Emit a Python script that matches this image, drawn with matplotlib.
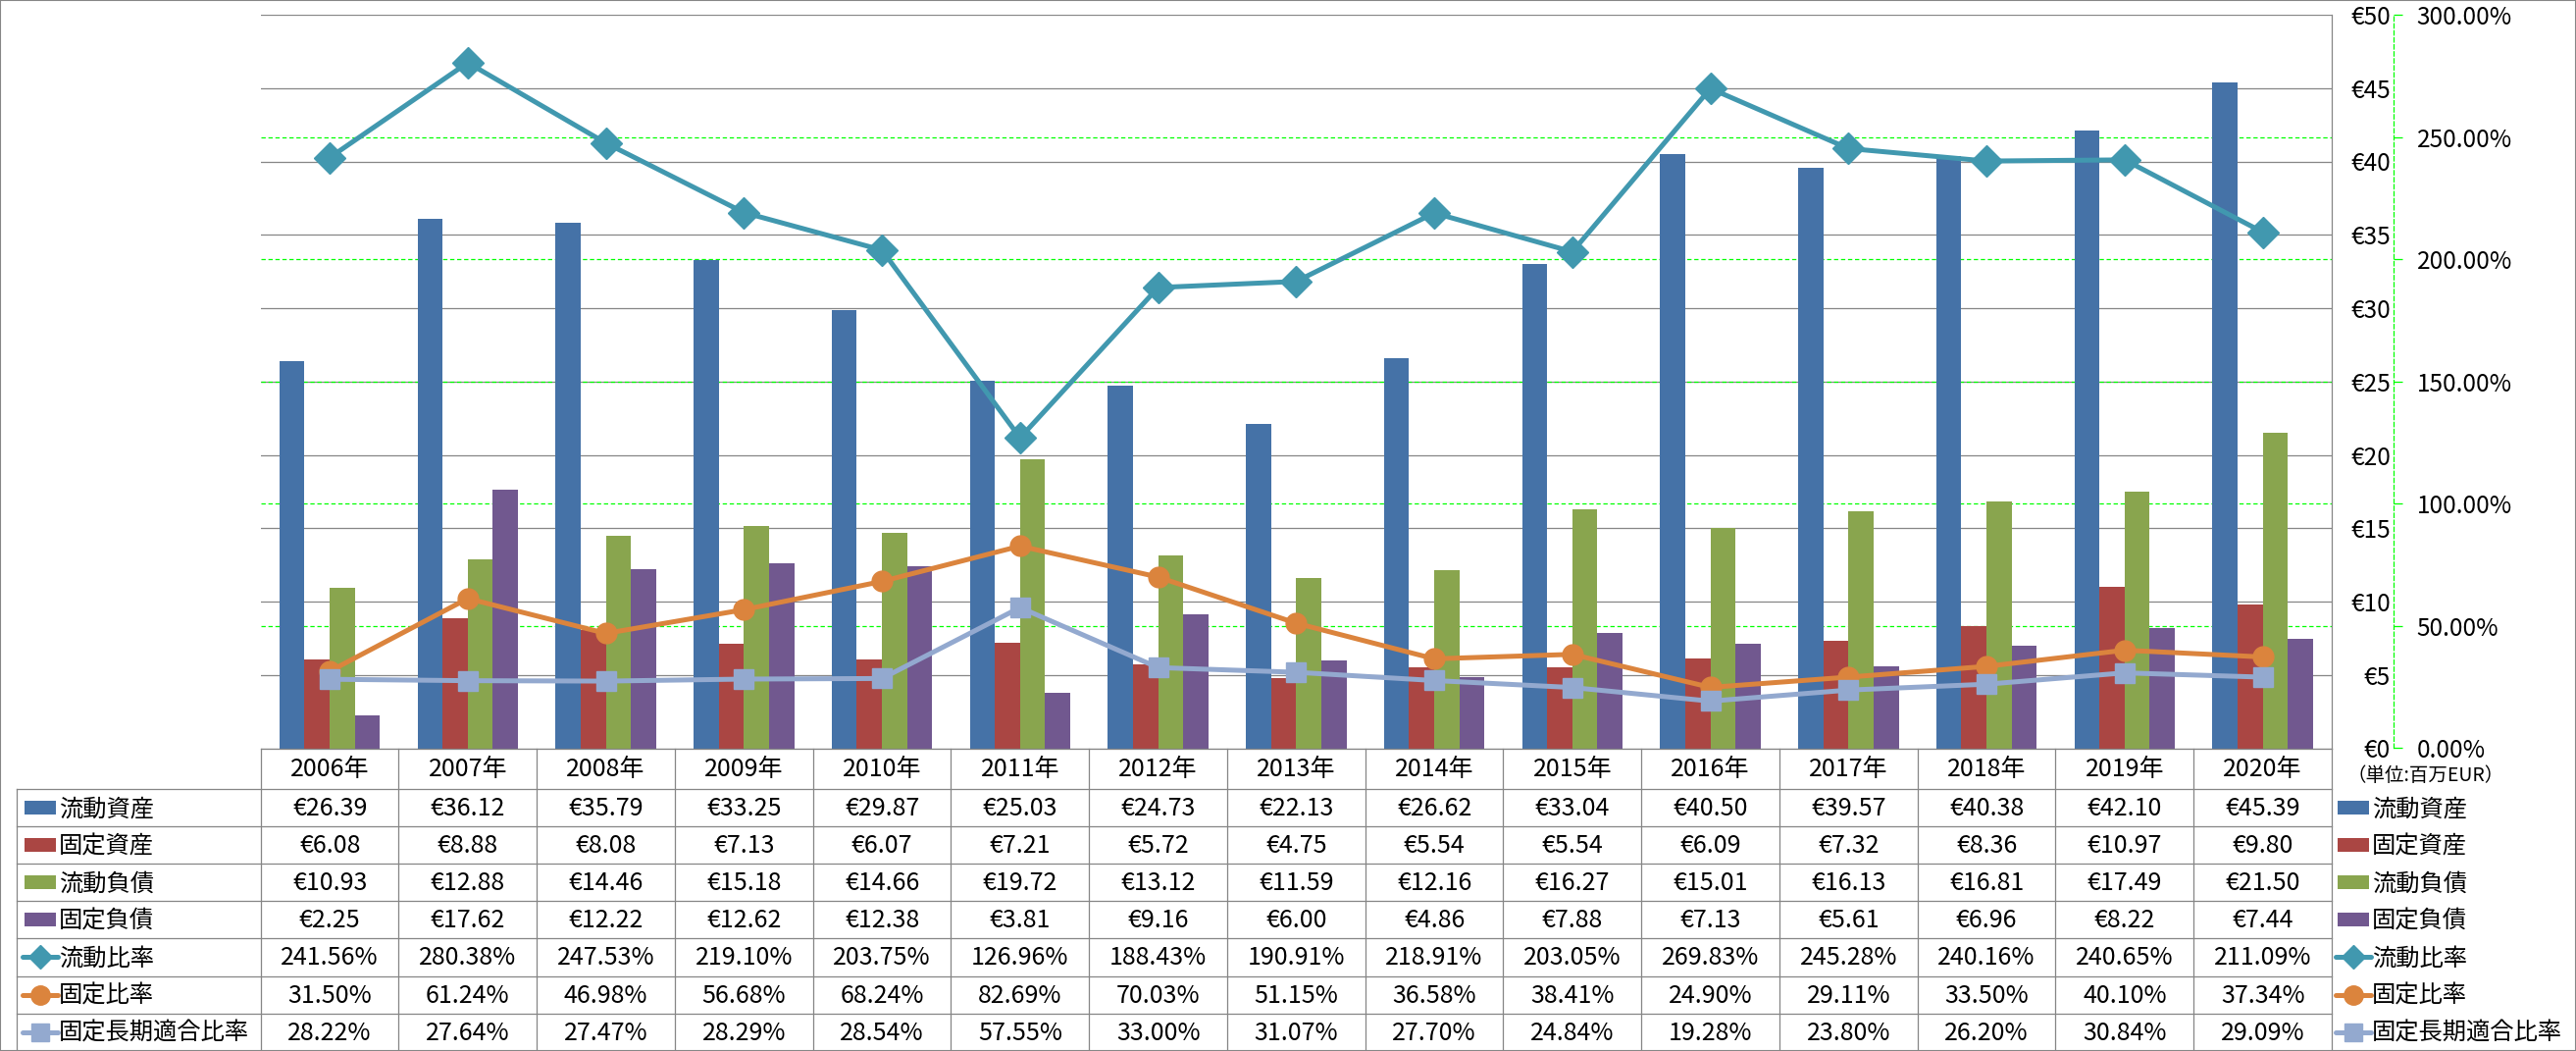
import matplotlib
matplotlib.use("Agg")
import matplotlib.pyplot as plt
from matplotlib.lines import Line2D
from matplotlib.patches import Rectangle

plt.rcParams['font.family'] = ['Noto Sans CJK JP', 'DejaVu Sans']

# ---------------- data ----------------
years = ['2006年', '2007年', '2008年', '2009年', '2010年', '2011年', '2012年', '2013年',
         '2014年', '2015年', '2016年', '2017年', '2018年', '2019年', '2020年']
current_assets = [26.39, 36.12, 35.79, 33.25, 29.87, 25.03, 24.73, 22.13, 26.62, 33.04,
                  40.50, 39.57, 40.38, 42.10, 45.39]
fixed_assets = [6.08, 8.88, 8.08, 7.13, 6.07, 7.21, 5.72, 4.75, 5.54, 5.54,
                6.09, 7.32, 8.36, 10.97, 9.80]
current_liabilities = [10.93, 12.88, 14.46, 15.18, 14.66, 19.72, 13.12, 11.59, 12.16, 16.27,
                       15.01, 16.13, 16.81, 17.49, 21.50]
fixed_liabilities = [2.25, 17.62, 12.22, 12.62, 12.38, 3.81, 9.16, 6.00, 4.86, 7.88,
                     7.13, 5.61, 6.96, 8.22, 7.44]
current_ratio = [241.56, 280.38, 247.53, 219.10, 203.75, 126.96, 188.43, 190.91, 218.91, 203.05,
                 269.83, 245.28, 240.16, 240.65, 211.09]
fixed_ratio = [31.50, 61.24, 46.98, 56.68, 68.24, 82.69, 70.03, 51.15, 36.58, 38.41,
               24.90, 29.11, 33.50, 40.10, 37.34]
fixed_long_term_ratio = [28.22, 27.64, 27.47, 28.29, 28.54, 57.55, 33.00, 31.07, 27.70, 24.84,
                         19.28, 23.80, 26.20, 30.84, 29.09]

bar_names = ['流動資産', '固定資産', '流動負債', '固定負債']
line_names = ['流動比率', '固定比率', '固定長期適合比率']
eur_ticks = [0, 5, 10, 15, 20, 25, 30, 35, 40, 45, 50]
pct_ticks = [0, 50, 100, 150, 200, 250, 300]
unit_label = '（単位:百万EUR）'

bar_series = [current_assets, fixed_assets, current_liabilities, fixed_liabilities]
line_series = [current_ratio, fixed_ratio, fixed_long_term_ratio]
bar_colors = ['#4572A7', '#AA4643', '#89A54E', '#71588F']
line_colors = ['#4198AF', '#DB843D', '#93A9CF']
line_markers = ['D', 'o', 's']
line_ms = [16, 15, 15]
key_ms = [12.5, 14, 13]

GRAY = '#868686'
LIME = '#00FF00'
NUM_FS = 18
LBL_FS = 17.5
TICK_FS = 17.5

# ---------------- geometry (pixels) ----------------
W, H = 2626, 1071
def fx(x):
    return x / W
def fy(y):
    return 1 - y / H

plot_l, plot_r = 265.7, 2377.0
plot_t, plot_b = 15.0, 762.5
hdr_b = 804.0
row_h = 38.1
lbl_l = 17.0

fig = plt.figure(figsize=(W / 100, H / 100), dpi=100)
fig.patch.set_facecolor('white')

ax = fig.add_axes([fx(plot_l), fy(plot_b), (plot_r - plot_l) / W, (plot_b - plot_t) / H])
ax2 = ax.twinx()

n = len(years)
xs = list(range(n))
bw = 0.182
for k, (vals, col) in enumerate(zip(bar_series, bar_colors)):
    ax.bar([x + (k - 1.5) * bw for x in xs], vals, width=bw, color=col, zorder=2,
           linewidth=0)

ax.set_xlim(-0.5, n - 0.5)
ax.set_ylim(0, 50)
ax2.set_ylim(0, 300)
ax.set_xticks([])

# primary gridlines
ax.set_yticks(eur_ticks)
ax.set_yticklabels(['€%d' % t for t in eur_ticks])
ax.yaxis.grid(True, color=GRAY, lw=0.9)
ax.set_axisbelow(True)
# secondary gridlines (lime dashed), drawn under bars
for t in pct_ticks[1:-1]:
    ax.plot([0, 1], [t, t], transform=ax2.get_yaxis_transform(), color=LIME, lw=0.9,
            ls=(0, (3.5, 2.2)), zorder=0.6)

ax.yaxis.tick_right()
ax.tick_params(axis='y', length=0, pad=43.2, labelsize=TICK_FS)
for t in ax.yaxis.get_major_ticks():
    t.label2.set_horizontalalignment('right')

for s in ['left', 'top']:
    ax.spines[s].set_visible(False)
ax.spines['right'].set_color(GRAY)
ax.spines['right'].set_linewidth(0.9)
ax.spines['bottom'].set_color(GRAY)
ax.spines['bottom'].set_linewidth(0.9)

# secondary axis
for s in ['left', 'top', 'bottom']:
    ax2.spines[s].set_visible(False)
ax2.spines['right'].set_position(('outward', 45.4))
ax2.spines['right'].set_color(LIME)
ax2.spines['right'].set_linestyle((0, (3.5, 2.2)))
ax2.spines['right'].set_linewidth(0.9)
ax2.set_yticks(pct_ticks)
ax2.set_yticklabels(['%.2f%%' % t for t in pct_ticks])
ax2.tick_params(axis='y', direction='out', length=6.5, width=0.9, color=LIME, pad=10.5,
                labelsize=TICK_FS)

for vals, col, mk, ms in zip(line_series, line_colors, line_markers, line_ms):
    ax2.plot(xs, vals, color=col, lw=3.6, marker=mk, ms=ms, mfc=col, mec=col, mew=1,
             solid_joinstyle='round', solid_capstyle='round', zorder=3, clip_on=False)

# ---------------- data table ----------------
def hline(x0, x1, y):
    fig.add_artist(Line2D([fx(x0), fx(x1)], [fy(y), fy(y)], color=GRAY, lw=0.9))

def vline(x, y0, y1):
    fig.add_artist(Line2D([fx(x), fx(x)], [fy(y0), fy(y1)], color=GRAY, lw=0.9))

col_w = (plot_r - plot_l) / n
n_rows = len(bar_names) + len(line_names)
tbl_b = hdr_b + n_rows * row_h
for i in range(n + 1):
    vline(plot_l + i * col_w, plot_b, tbl_b)
vline(lbl_l, hdr_b, tbl_b)
for r in range(n_rows + 1):
    hline(lbl_l, plot_r, hdr_b + r * row_h)

for i, yr in enumerate(years):
    fig.text(fx(plot_l + (i + 0.5) * col_w), fy((plot_b + hdr_b) / 2 + 1), yr,
             ha='center', va='center', fontsize=NUM_FS)

rows = [(name, vals, '€%.2f') for name, vals in zip(bar_names, bar_series)] + \
       [(name, vals, '%.2f%%') for name, vals in zip(line_names, line_series)]
for r, (name, vals, fmt) in enumerate(rows):
    yc = hdr_b + (r + 0.5) * row_h + 1
    for i, v in enumerate(vals):
        fig.text(fx(plot_l + (i + 0.5) * col_w), fy(yc), fmt % v,
                 ha='center', va='center', fontsize=NUM_FS)

# legend keys (left in table and right legend)
def draw_key(r, x0, x1, text_x):
    yc = hdr_b + (r + 0.5) * row_h
    if r < len(bar_names):
        fig.add_artist(Rectangle((fx(x0), fy(yc + 7)), (x1 - x0) / W, 14 / H,
                                 transform=fig.transFigure, color=bar_colors[r], lw=0))
    else:
        k = r - len(bar_names)
        fig.add_artist(Line2D([fx(x0 - 2), fx(x1 + 2)], [fy(yc), fy(yc)], color=line_colors[k],
                              lw=3.6, solid_capstyle='round'))
        fig.add_artist(Line2D([fx((x0 + x1) / 2)], [fy(yc)], color=line_colors[k],
                              marker=line_markers[k], ms=key_ms[k], mfc=line_colors[k],
                              mec=line_colors[k], lw=0))
    fig.text(fx(text_x), fy(yc + 1), rows[r][0], ha='left', va='center', fontsize=LBL_FS)

for r in range(n_rows):
    draw_key(r, 25, 57, 60)
    draw_key(r, 2383, 2415, 2418)

fig.text(fx(2393), fy(790), unit_label, ha='left', va='center', fontsize=14)

# outer border
fig.add_artist(Rectangle((0, 0), 1, 1, transform=fig.transFigure, fill=False,
                         ec=GRAY, lw=1.5))

fig.savefig('out.png', dpi=100, facecolor='white')
